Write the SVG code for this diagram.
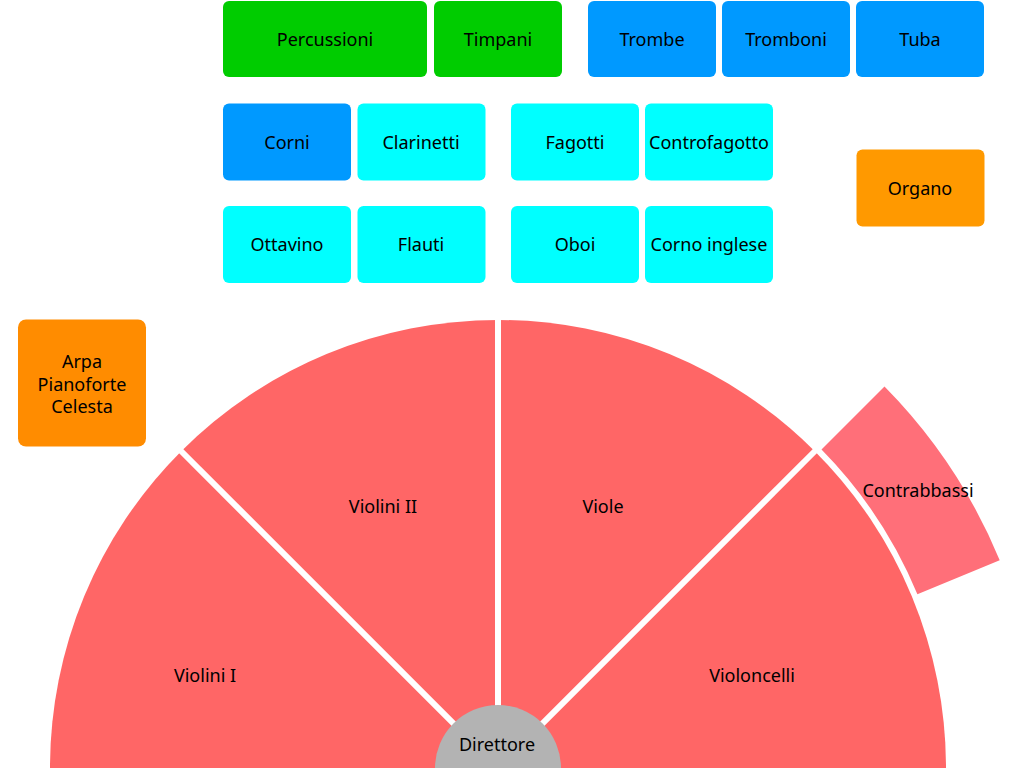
<svg xmlns="http://www.w3.org/2000/svg" width="1024" height="768" viewBox="0 0 1024 768">
<style>
text{font-family:"Noto Sans","Open Sans","DejaVu Sans",sans-serif;font-size:18px;fill:#000;text-anchor:middle;dominant-baseline:central}
.g{fill:#00CC00}.b{fill:#0099FF}.c{fill:#00FFFF}.o{fill:#FF9900}.o2{fill:#FF8C00}
.s{fill:#FF6666}
.sep{stroke:#fff;stroke-width:6;fill:none}
</style>
<rect width="1024" height="768" fill="#fff"/>
<g id="strings">
<g id="violini1"><path class="s" d="M498,768 L50,768 A448,448 0 0 1 181.22,451.22 Z"/><text x="205" y="675">Violini I</text></g>
<g id="violini2"><path class="s" d="M498,768 L181.22,451.22 A448,448 0 0 1 498,320 Z"/><text x="383" y="506">Violini II</text></g>
<g id="viole"><path class="s" d="M498,768 L498,320 A448,448 0 0 1 814.78,451.22 Z"/><text x="603" y="506">Viole</text></g>
<g id="violoncelli"><path class="s" d="M498,768 L814.78,451.22 A448,448 0 0 1 946,768 Z"/><text x="752" y="675">Violoncelli</text></g>
</g>
<g id="connectors">
<line class="sep" x1="498" y1="768" x2="178" y2="448"/>
<line class="sep" x1="498" y1="768" x2="498" y2="316"/>
<line class="sep" x1="498" y1="768" x2="818" y2="448"/>
</g>
<g id="contrabbassi"><path fill="#FF6F79" d="M821.5,449.5 L884.5,386.5 A543,543 0 0 1 999.7,560.2 L917.4,594.3 A454,454 0 0 0 821.5,449.5 Z"/><text x="918" y="490">Contrabbassi</text></g>
<g id="direttore"><circle cx="498" cy="768" r="63" fill="#B3B3B3"/><text x="497" y="744">Direttore</text></g>
<g id="percussioni"><rect class="g" x="223" y="1" width="204" height="76" rx="6"/><text x="325" y="39">Percussioni</text></g>
<g id="timpani"><rect class="g" x="434" y="1" width="128" height="76" rx="6"/><text x="498" y="39">Timpani</text></g>
<g id="trombe"><rect class="b" x="588" y="1" width="128" height="76" rx="6"/><text x="652" y="39">Trombe</text></g>
<g id="tromboni"><rect class="b" x="722" y="1" width="128" height="76" rx="6"/><text x="786" y="39">Tromboni</text></g>
<g id="tuba"><rect class="b" x="856" y="1" width="128" height="76" rx="6"/><text x="920" y="39">Tuba</text></g>
<g id="corni"><rect class="b" x="223" y="103.5" width="128" height="77" rx="6"/><text x="287" y="142">Corni</text></g>
<g id="clarinetti"><rect class="c" x="357.5" y="103.5" width="128" height="77" rx="6"/><text x="421" y="142">Clarinetti</text></g>
<g id="fagotti"><rect class="c" x="511" y="103.5" width="128" height="77" rx="6"/><text x="575" y="142">Fagotti</text></g>
<g id="controfagotto"><rect class="c" x="645" y="103.5" width="128" height="77" rx="6"/><text x="709" y="142">Controfagotto</text></g>
<g id="organo"><rect class="o" x="856.5" y="149.5" width="128" height="77" rx="6"/><text x="920" y="188">Organo</text></g>
<g id="ottavino"><rect class="c" x="223" y="206" width="128" height="77" rx="6"/><text x="287" y="244">Ottavino</text></g>
<g id="flauti"><rect class="c" x="357.5" y="206" width="128" height="77" rx="6"/><text x="421" y="244">Flauti</text></g>
<g id="oboi"><rect class="c" x="511" y="206" width="128" height="77" rx="6"/><text x="575" y="244">Oboi</text></g>
<g id="cornoinglese"><rect class="c" x="645" y="206" width="128" height="77" rx="6"/><text x="709" y="244">Corno inglese</text></g>
<g id="arpa"><rect class="o2" x="18" y="319.5" width="128" height="127" rx="8"/><text x="82" y="361">Arpa</text><text x="82" y="384">Pianoforte</text><text x="82" y="406">Celesta</text></g>
</svg>
